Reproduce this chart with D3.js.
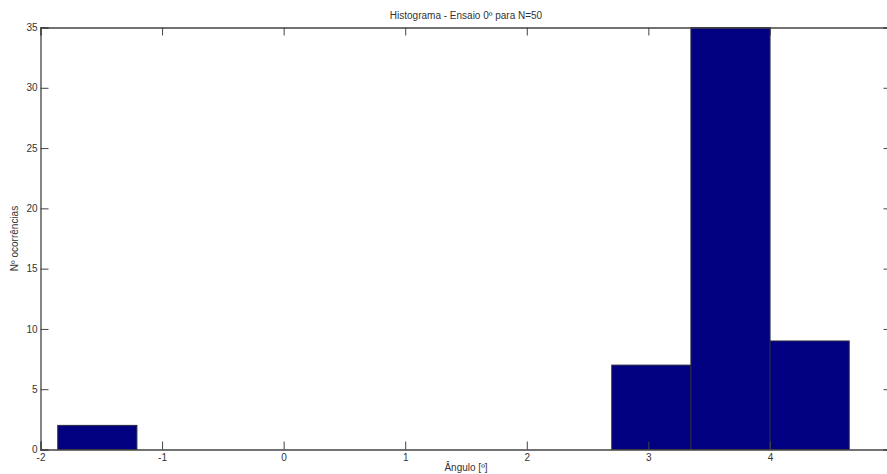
<!DOCTYPE html>
<html>
<head>
<meta charset="utf-8">
<script src="https://cdn.jsdelivr.net/npm/d3@7"></script>
<style>
  body { margin: 0; background: #fff; }
  svg text { font-family: "Liberation Sans", Arial, sans-serif; fill: #333; }
</style>
</head>
<body>
<svg id="viz"></svg>
<script>
// histogram data (10 bins)
var binStart = -1.858;
var binWidth = 0.651;
var counts = [2, 0, 0, 0, 0, 0, 0, 7, 35, 9];
var xTicks = [-2, -1, 0, 1, 2, 3, 4];
var yTicks = [0, 5, 10, 15, 20, 25, 30, 35];
var xDomain = [-2, 5];
var yDomain = [0, 35];

var width = 887, height = 474;
var mLeft = 40.5, mRight = 891.5, mTop = 27.5, mBottom = 449.5;

var svg = d3.select("#viz").attr("width", width).attr("height", height);

var x = d3.scaleLinear().domain(xDomain).range([mLeft, mRight]);
var y = d3.scaleLinear().domain(yDomain).range([mBottom, mTop]);

var bins = counts.map(function (c, i) {
    return { x0: binStart + i * binWidth, x1: binStart + (i + 1) * binWidth, n: c };
}).filter(function (d) { return d.n > 0; });

svg.append("g").selectAll("rect")
    .data(bins)
    .enter()
    .append("rect")
    .attr("x", function (d) { return x(d.x0); })
    .attr("y", function (d) { return y(d.n); })
    .attr("width", function (d) { return x(d.x1) - x(d.x0); })
    .attr("height", function (d) { return y(0) - y(d.n); })
    .attr("fill", "#000080")
    .attr("stroke", "#2a2a40")
    .attr("stroke-width", 1);

var axisColor = "#444";
var tickLen = 8;
var fmt = function (d) { return String(d); }; // plain hyphen minus like the original

// bottom + top axes
var xAxis = svg.append("g").attr("transform", "translate(0," + mBottom + ")")
    .call(d3.axisBottom(x).tickValues(xTicks).tickSize(-tickLen).tickPadding(4).tickFormat(fmt));
var xTop = svg.append("g").attr("transform", "translate(0," + mTop + ")")
    .call(d3.axisTop(x).tickValues(xTicks).tickSize(-tickLen).tickFormat(""));
// left + right axes
var yAxis = svg.append("g").attr("transform", "translate(" + mLeft + ",0)")
    .call(d3.axisLeft(y).tickValues(yTicks).tickSize(-tickLen).tickPadding(3).tickFormat(fmt));
var yRight = svg.append("g").attr("transform", "translate(" + mRight + ",0)")
    .call(d3.axisRight(y).tickValues(yTicks).tickSize(-tickLen).tickFormat(""));

[xAxis, xTop, yAxis, yRight].forEach(function (g) {
    g.select(".domain").attr("stroke", axisColor).attr("stroke-width", 1.3);
    g.selectAll(".tick line").attr("stroke", axisColor);
    g.selectAll(".tick text").style("font-size", "10px").attr("fill", "#333");
});

svg.append("text")
    .attr("x", (mLeft + mRight) / 2)
    .attr("y", 19)
    .attr("text-anchor", "middle")
    .style("font-size", "10px")
    .text("Histograma - Ensaio 0º para N=50");

svg.append("text")
    .attr("x", (mLeft + mRight) / 2)
    .attr("y", 471)
    .attr("text-anchor", "middle")
    .style("font-size", "10px")
    .text("Ângulo [º]");

svg.append("text")
    .attr("transform", "translate(18," + ((mTop + mBottom) / 2) + ") rotate(-90)")
    .attr("text-anchor", "middle")
    .style("font-size", "10px")
    .text("Nº ocorrências");
</script>
</body>
</html>
